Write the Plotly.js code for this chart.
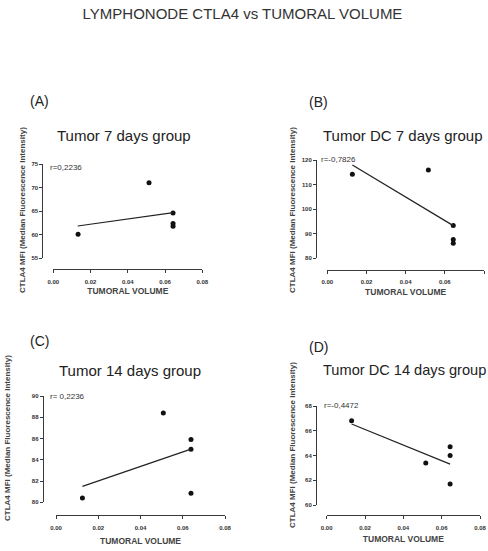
<!DOCTYPE html>
<html>
<head>
<meta charset="utf-8">
<script src="https://cdn.plot.ly/plotly-3.0.1.min.js"></script>
<style>html,body{margin:0;padding:0;background:#fff;}#chart{width:488px;height:551px;}</style>
</head>
<body>
<div id="chart"></div>
<script>
// ---- data ----
var xTicks = [0, 0.02, 0.04, 0.06, 0.08];

var volA = [0.0133, 0.0514, 0.0643, 0.0643, 0.0643];
var mfiA = [60.1, 71.0, 64.6, 62.4, 61.8];
var fitVolA = [0.0131, 0.0644];
var fitMfiA = [61.85, 64.67];

var volB = [0.0128, 0.0516, 0.0643, 0.0643, 0.0643];
var mfiB = [114.2, 115.9, 93.3, 87.7, 86.1];
var fitVolB = [0.0128, 0.0643];
var fitMfiB = [118.0, 93.3];

var volC = [0.0125, 0.0508, 0.0639, 0.0639, 0.0639];
var mfiC = [80.4, 88.4, 85.9, 85.0, 80.85];
var fitVolC = [0.0125, 0.0639];
var fitMfiC = [81.5, 85.0];

var volD = [0.0130, 0.0517, 0.0644, 0.0644, 0.0644];
var mfiD = [66.8, 63.4, 64.7, 64.0, 61.7];
var fitVolD = [0.0130, 0.0644];
var fitMfiD = [66.55, 63.3];

var panelLetters = ['(A)', '(B)', '(C)', '(D)'];
var panelTitles = ['Tumor 7 days group', 'Tumor DC 7 days group', 'Tumor 14 days group', 'Tumor DC 14 days group'];
var rLabels = ['r=0,2236', 'r=-0,7826', 'r= 0,2236', 'r=-0,4472'];
var xTitle = 'TUMORAL VOLUME';
var yTitle = 'CTLA4 MFI (Median Fluorescence Intensity)';
var mainTitle = 'LYMPHONODE CTLA4 vs TUMORAL VOLUME';

// ---- layout helpers ----
var W = 488, H = 551;
function fx(px) { return px / W; }
function fy(py) { return 1 - py / H; }

var FONT = 'Liberation Sans, Arial, sans-serif';
var AX = '#3a3a3a';

var vols = [volA, volB, volC, volD];
var mfis = [mfiA, mfiB, mfiC, mfiD];
var fitVols = [fitVolA, fitVolB, fitVolC, fitVolD];
var fitMfis = [fitMfiA, fitMfiB, fitMfiC, fitMfiD];

// pixel geometry per panel
var geo = [
  {x0: 53.3, x1: 202.3, yTop: 164, yBot: 258.3, yr: [55, 75], dt: 5, xLine: 269.3, yLine: 42.3,
   letter: [28, 101], title: [55, 135], tsize: 15, r: [48, 167], yt: [22, 210], lso: 3, tso: 4},
  {x0: 327.3, x1: 484, yTop: 160, yBot: 258.3, yr: [80, 120], dt: 10, xLine: 270, yLine: 316,
   letter: [307, 102], title: [321, 135], tsize: 15, r: [319, 159], yt: [292, 210], lso: 3, tso: 4},
  {x0: 56, x1: 225, yTop: 396, yBot: 502.3, yr: [80, 90], dt: 2, xLine: 515, yLine: 42.7,
   letter: [28, 341], title: [57, 370], tsize: 15, r: [48, 396], yt: [7, 438], lso: 4, tso: 7},
  {x0: 326.7, x1: 480, yTop: 406, yBot: 505, yr: [60, 68], dt: 2, xLine: 515, yLine: 316,
   letter: [307, 347], title: [321, 370], tsize: 14.6, r: [322, 405], yt: [292, 445], lso: 4, tso: 5}
];

var data = [];
var layout = {
  width: W, height: H,
  margin: {l: 0, r: 0, t: 0, b: 0},
  paper_bgcolor: '#ffffff',
  plot_bgcolor: 'rgba(0,0,0,0)',
  showlegend: false,
  font: {family: FONT, color: '#222'},
  title: {
    text: mainTitle,
    x: fx(242.5), xanchor: 'center',
    y: fy(14), yanchor: 'middle',
    font: {family: FONT, size: 15, color: '#333'}
  },
  annotations: []
};

for (var i = 0; i < 4; i++) {
  var g = geo[i];
  var n = i === 0 ? '' : String(i + 1);
  var xa = 'x' + n, ya = 'y' + n;

  data.push({
    type: 'scatter', mode: 'markers', x: vols[i], y: mfis[i],
    xaxis: xa, yaxis: ya, cliponaxis: false,
    marker: {color: '#111', size: 5}
  });
  data.push({
    type: 'scatter', mode: 'lines', x: fitVols[i], y: fitMfis[i],
    xaxis: xa, yaxis: ya, cliponaxis: false,
    line: {color: '#222', width: 1.2}
  });

  layout['xaxis' + n] = {
    domain: [fx(g.x0), fx(g.x1)],
    range: [0, 0.08],
    anchor: 'free', position: fy(g.xLine),
    tickmode: 'array', tickvals: xTicks, tickformat: '.2f',
    ticks: 'outside', ticklen: 3, tickwidth: 1, tickcolor: AX,
    ticklabelstandoff: g.lso,
    showline: true, linecolor: AX, linewidth: 1,
    showgrid: false, zeroline: false, fixedrange: true,
    tickfont: {family: FONT, size: 6, color: '#333', weight: 'bold'},
    title: {text: xTitle, standoff: g.tso, font: {family: FONT, size: 8.5, color: '#444', weight: 'bold'}}
  };
  layout['yaxis' + n] = {
    domain: [fy(g.yBot), fy(g.yTop)],
    range: g.yr,
    anchor: 'free', position: fx(g.yLine),
    tick0: g.yr[0], dtick: g.dt,
    ticks: 'outside', ticklen: 3, tickwidth: 1, tickcolor: AX,
    showline: true, linecolor: AX, linewidth: 1,
    showgrid: false, zeroline: false, fixedrange: true,
    tickfont: {family: FONT, size: 6, color: '#333', weight: 'bold'}
  };

  layout.annotations.push({
    text: panelLetters[i], xref: 'paper', yref: 'paper',
    x: fx(g.letter[0]), y: fy(g.letter[1]), xanchor: 'left', yanchor: 'middle',
    showarrow: false, font: {family: FONT, size: 14, color: '#222'}
  });
  layout.annotations.push({
    text: panelTitles[i], xref: 'paper', yref: 'paper',
    x: fx(g.title[0]), y: fy(g.title[1]), xanchor: 'left', yanchor: 'middle',
    showarrow: false, font: {family: FONT, size: g.tsize, color: '#222'}
  });
  layout.annotations.push({
    text: rLabels[i], xref: 'paper', yref: 'paper',
    x: fx(g.r[0]), y: fy(g.r[1]), xanchor: 'left', yanchor: 'middle',
    showarrow: false, font: {family: FONT, size: 8, color: '#333'}
  });
  layout.annotations.push({
    text: yTitle, xref: 'paper', yref: 'paper', textangle: -90,
    x: fx(g.yt[0]), y: fy(g.yt[1]), xanchor: 'center', yanchor: 'middle',
    showarrow: false, font: {family: FONT, size: 8, color: '#444', weight: 'bold'}
  });
}

Plotly.newPlot('chart', data, layout, {staticPlot: true, displayModeBar: false});
</script>
</body>
</html>
